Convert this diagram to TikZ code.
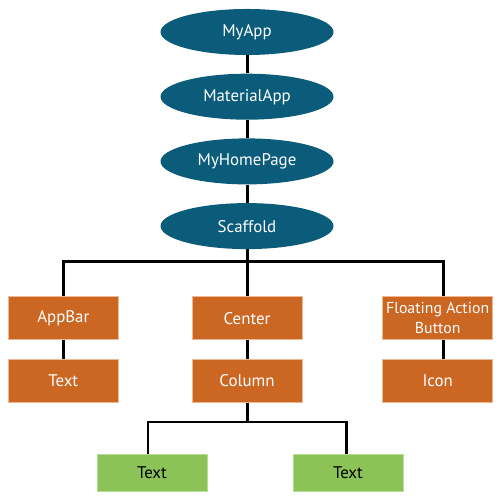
\documentclass[tikz,border=0pt]{standalone}
\usepackage{fontspec}
\setmainfont{PT Sans}
\usetikzlibrary{positioning, shapes.geometric}
\definecolor{widgetblue}{RGB}{10,92,122}
\definecolor{widgetorange}{RGB}{204,102,35}
\definecolor{orangeedge}{RGB}{240,184,144}
\definecolor{widgetgreen}{RGB}{139,195,86}
\definecolor{greenedge}{RGB}{183,218,150}
\tikzset{
	root/.style={ellipse, fill=widgetblue, text=white, minimum width=3.46cm, minimum height=0.92cm, inner sep=0pt},
	child/.style={rectangle, draw=orangeedge, fill=widgetorange, text=white, minimum width=2.2cm, minimum height=0.86cm, inner sep=0pt, align=center},
	leaf/.style={rectangle, draw=greenedge, fill=widgetgreen, text=black, minimum width=2.2cm, minimum height=0.74cm, inner sep=0pt},
	link/.style={line width=1.7pt}
}

\begin{document}
\begin{tikzpicture}[font=\fontsize{9.6}{11}\selectfont]
		\useasboundingbox (0,0) rectangle (10,10);
		\node[root](myapp) at (4.94,9.36) {MyApp};
		\node[root](material) [below=0.36cm of myapp] {MaterialApp};
		\node[root](homepage) [below=0.36cm of material] {MyHomePage};
		\node[root](scaffold) [below=0.36cm of homepage] {Scaffold};
		
		\node[child](center) [below=0.94cm of scaffold] {Center};
		\node[child](appbar) [left=1.46cm of center] {AppBar};
		\node[child, font=\fontsize{9}{10}\selectfont](fab) [right=1.6cm of center] {Floating Action\\[1.5pt]Button};
		
		\node[child](column) [below=0.38cm of center] {Column};
		\node[child](appbartext) [below=0.38cm of appbar] {Text};
		\node[child](icon) [below=0.38cm of fab] {Icon};
		
		\node[leaf](lefttext) [below=1.02cm of column, xshift=-1.9cm] {Text};
		\node[leaf](righttext) [below=1.02cm of column, xshift=2.02cm] {Text};
		
		\coordinate (bar) at (4.94,4.76);
		\coordinate (subbar) at (4.94,1.56);
		
		% tree connectors
		\draw[link] (myapp) -- (material);
		\draw[link] (material) -- (homepage);
		\draw[link] (homepage) -- (scaffold);
		\draw[link] (scaffold) -- (center);
		\draw[link] (appbar.north) |- (bar) -| ([xshift=0.11cm]fab.north);
		\draw[link] (appbar) -- (appbartext);
		\draw[link] (center) -- (column);
		\draw[link] ([xshift=0.11cm]fab.south) -- ([xshift=0.11cm]icon.north);
		\draw[link] (column.south) -- (subbar);
		\draw[link] ([xshift=-0.08cm]lefttext.north) |- (subbar) -| ([xshift=-0.04cm]righttext.north);
		
		\end{tikzpicture}
\end{document}
